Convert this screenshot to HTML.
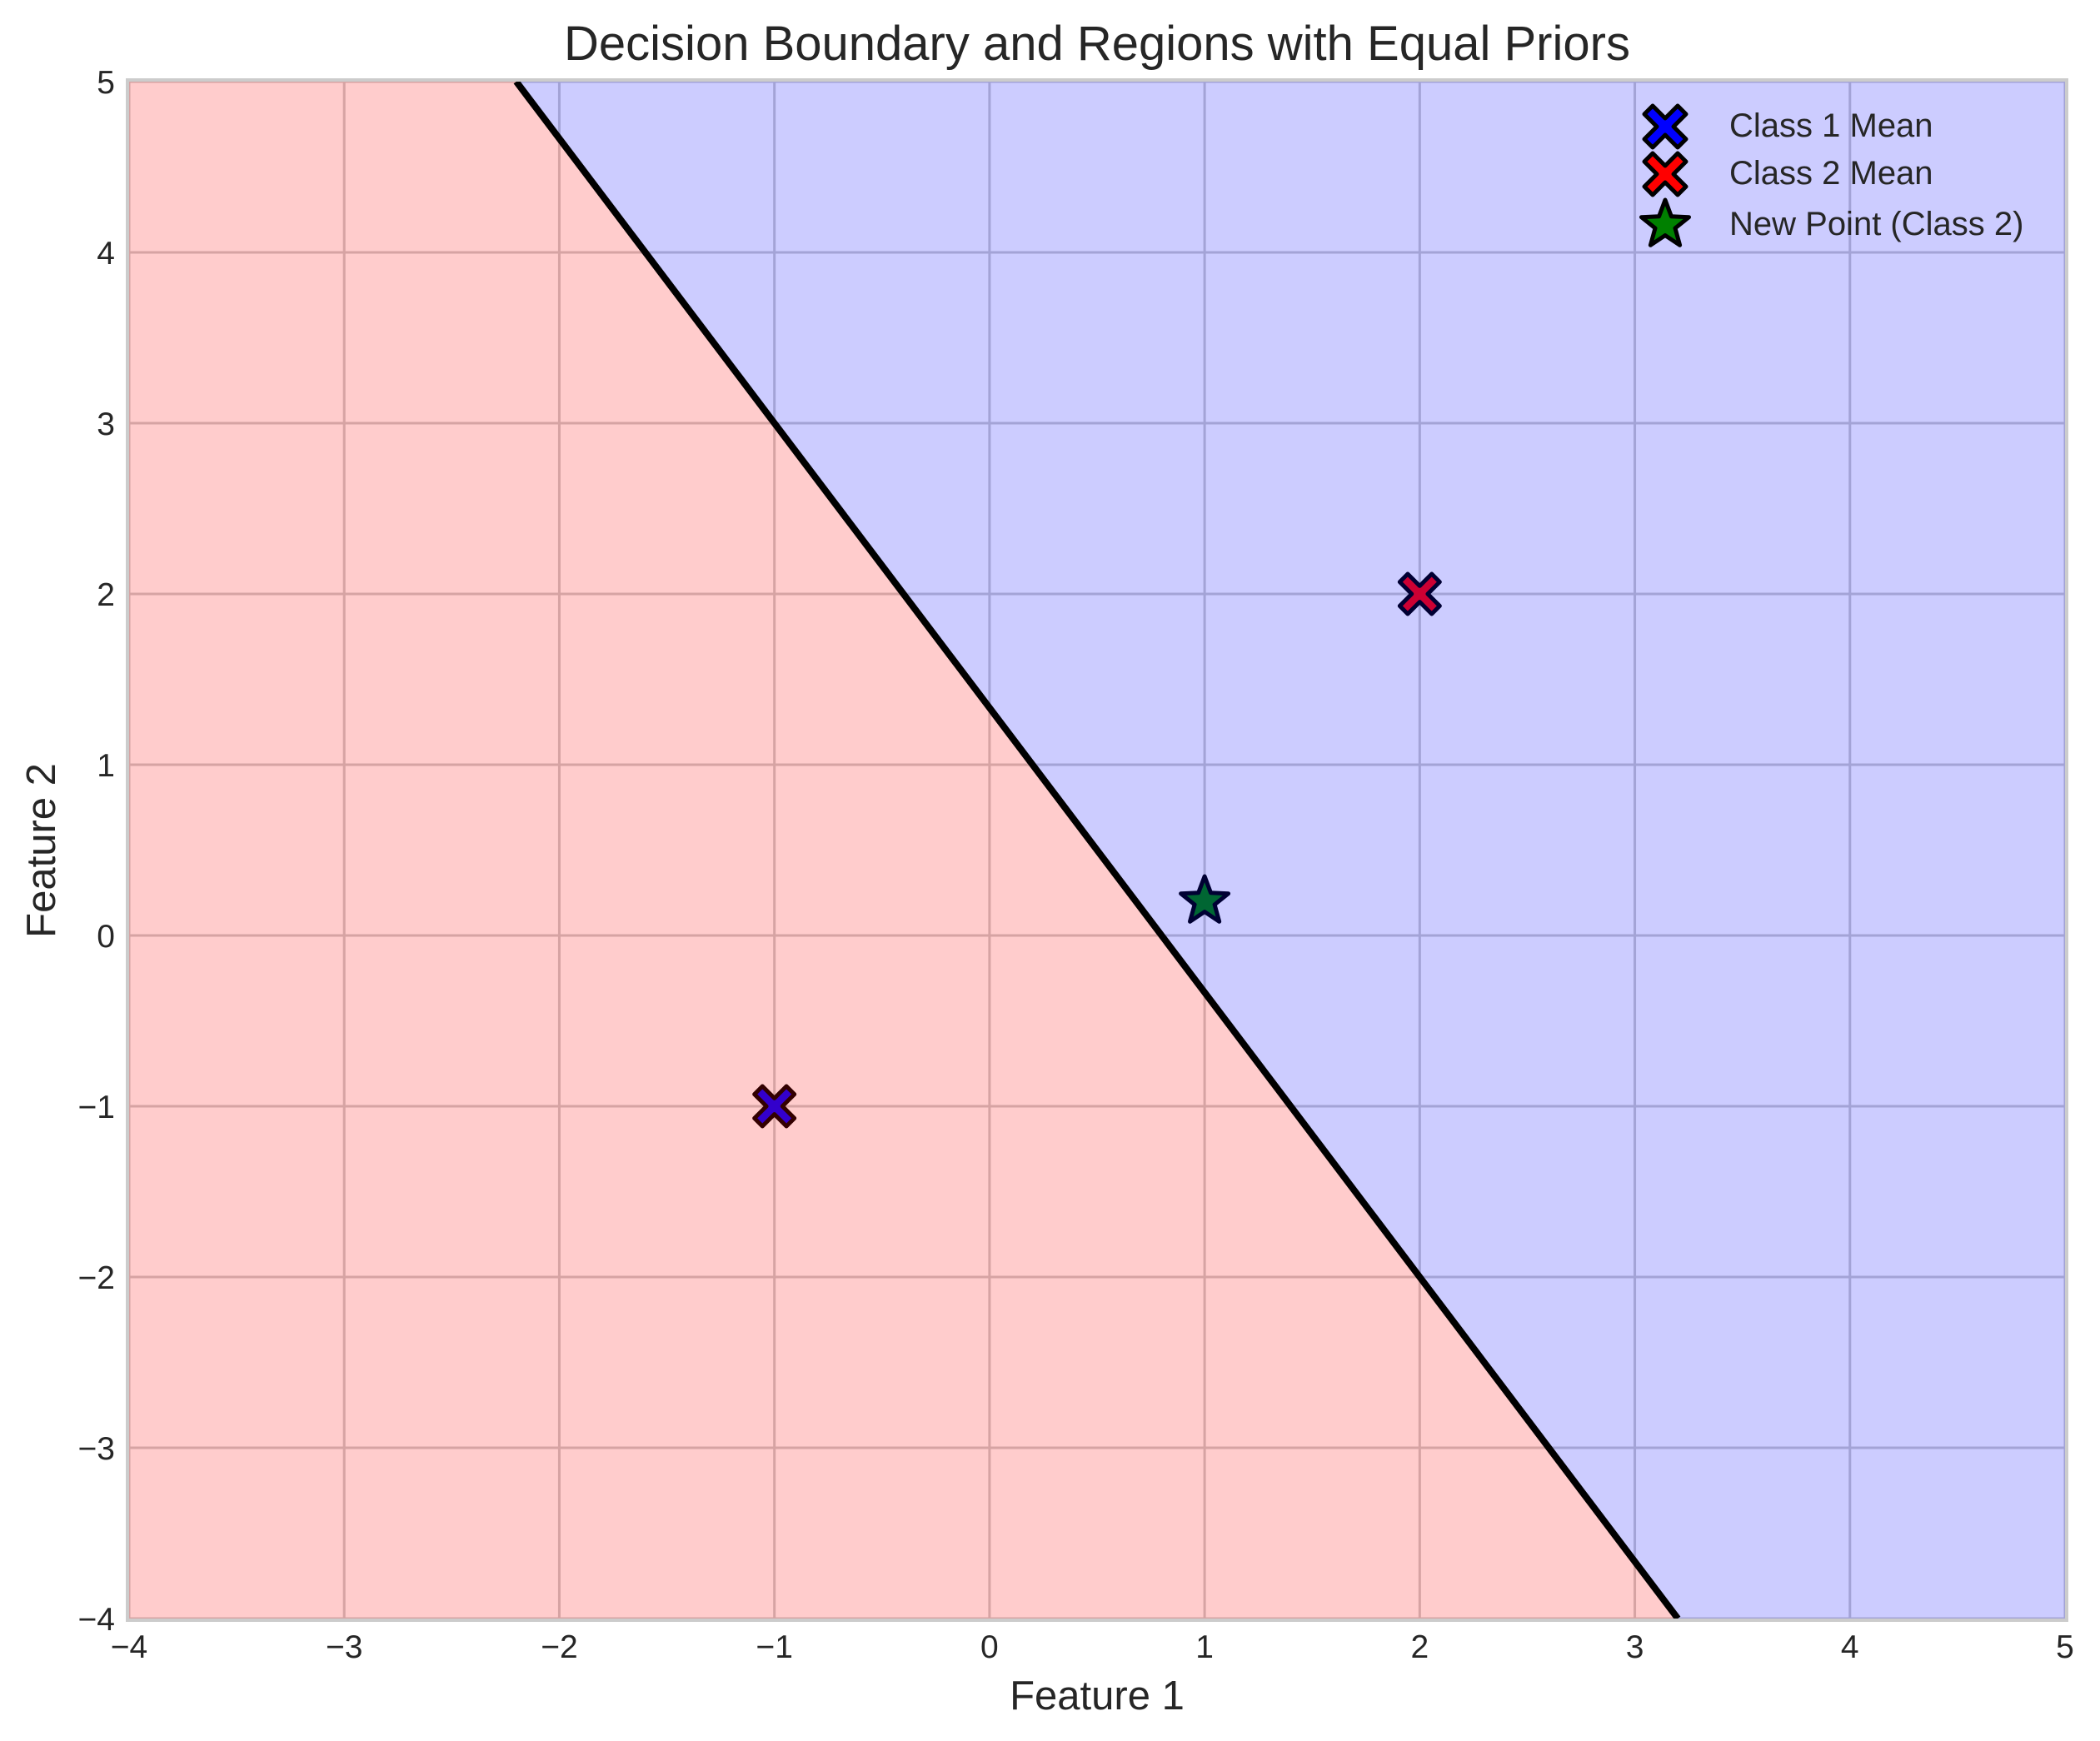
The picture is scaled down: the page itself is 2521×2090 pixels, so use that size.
<!DOCTYPE html>
<html><head><meta charset="utf-8"><style>
html,body{margin:0;padding:0;background:#fff;}
svg{display:block;font-family:"Liberation Sans",Arial,sans-serif;}
</style></head><body>
<svg id="chart" width="2521" height="2090" xmlns="http://www.w3.org/2000/svg">
<text x="1317" y="72" font-size="58" text-anchor="middle" fill="#262626">Decision Boundary and Regions with Equal Priors</text>
<text x="1317" y="2052" font-size="49" text-anchor="middle" fill="#262626">Feature 1</text>
<text x="0" y="0" font-size="49" text-anchor="middle" fill="#262626" transform="translate(66,1021) rotate(-90)">Feature 2</text>
<g id="grid"></g><g id="marks"></g><g id="regions"></g><g id="line"></g><g id="ticks"></g>
<rect x="153" y="96" width="2328" height="1849" fill="none" stroke="#cccccc" stroke-width="4"/>
<g id="legend" font-size="40" fill="#262626">
<g><path id="legx1" fill="#0000ff" stroke="#000" stroke-width="5" stroke-linejoin="round"/><text x="2076" y="164">Class 1 Mean</text></g>
<g><path id="legx2" fill="#ff0000" stroke="#000" stroke-width="5" stroke-linejoin="round"/><text x="2076" y="221">Class 2 Mean</text></g>
<g><path id="legstar" fill="#008000" stroke="#000" stroke-width="5" stroke-linejoin="round"/><text x="2076" y="282">New Point (Class 2)</text></g>
</g>
</svg>
<script>
const xTicks=[-4,-3,-2,-1,0,1,2,3,4,5];
const yTicks=[-4,-3,-2,-1,0,1,2,3,4,5];
const boundaryX=[-2.2,3.2];
const boundaryY=[5,-4];
const meanNames=['class1-mean','class2-mean'];
const meanX=[-1,2];
const meanY=[-1,2];
const meanColors=['#0000ff','#ff0000'];
const newPointX=[1];
const newPointY=[0.2];
const NS='http://www.w3.org/2000/svg';
const L=155,R=2479,T=98,B=1943;
const sx=v=>L+(v+4)/9*(R-L);
const sy=v=>B-(v+4)/9*(B-T);
function mk(t,a,p){const e=document.createElementNS(NS,t);for(const k in a)e.setAttribute(k,a[k]);p.appendChild(e);return e;}
const grid=document.getElementById('grid'),ticks=document.getElementById('ticks');
xTicks.forEach(v=>{
 const l=mk('line',{x1:sx(v),x2:sx(v),y1:T,y2:B,stroke:'#cccccc','stroke-width':3},grid);
 
 
 const t=mk('text',{x:sx(v),y:1990,'font-size':39,'text-anchor':'middle',fill:'#262626'},ticks);
 t.textContent=(v<0?'\u2212'+(-v):''+v);
 
 
});
yTicks.forEach(v=>{
 const l=mk('line',{x1:L,x2:R,y1:sy(v),y2:sy(v),stroke:'#cccccc','stroke-width':3},grid);
 
 
 const t=mk('text',{x:138,y:sy(v)+14,'font-size':39,'text-anchor':'end',fill:'#262626'},ticks);
 t.textContent=(v<0?'\u2212'+(-v):''+v);
 
 
});
const marks=document.getElementById('marks');
function xPath(cx,cy,s){const a=s*0.4,b=s;return `M${cx-b},${cy-b+a} L${cx-b+a},${cy-b} L${cx},${cy-a} L${cx+b-a},${cy-b} L${cx+b},${cy-b+a} L${cx+a},${cy} L${cx+b},${cy+b-a} L${cx+b-a},${cy+b} L${cx},${cy+a} L${cx-b+a},${cy+b} L${cx-b},${cy+b-a} L${cx-a},${cy}Z`;}
function starPath(cx,cy,r){let d='';for(let i=0;i<10;i++){const rr=i%2?r*0.42:r;const a=-Math.PI/2+i*Math.PI/5;d+=(i?'L':'M')+(cx+rr*Math.cos(a)).toFixed(1)+','+(cy+rr*Math.sin(a)).toFixed(1);}return d+'Z';}
meanX.forEach((v,i)=>{
 const p=mk('path',{d:xPath(sx(v),sy(meanY[i]),24),fill:meanColors[i],stroke:'#000','stroke-width':5,'stroke-linejoin':'round'},marks);
 
 
});
newPointX.forEach((v,i)=>{
 const p=mk('path',{d:starPath(sx(v),sy(newPointY[i]),30),fill:'#008000',stroke:'#000','stroke-width':5,'stroke-linejoin':'round'},marks);
 
 
});
document.getElementById('legx1').setAttribute('d',xPath(1999,152,25));
document.getElementById('legx2').setAttribute('d',xPath(1999,209,25));
document.getElementById('legstar').setAttribute('d',starPath(1999,270,30));
const reg=document.getElementById('regions');
const x0=sx(boundaryX[0]),y0=sy(boundaryY[0]),x1=sx(boundaryX[1]),y1=sy(boundaryY[1]);
const red=mk('polygon',{points:`${L},${T} ${x0},${y0} ${x1},${y1} ${L},${B}`,fill:'#ff0000','fill-opacity':0.2},reg);


const blue=mk('polygon',{points:`${x0},${y0} ${R},${T} ${R},${B} ${x1},${y1}`,fill:'#0000ff','fill-opacity':0.2},reg);


const ln=mk('line',{x1:x0,y1:y0,x2:x1,y2:y1,stroke:'#000','stroke-width':8},document.getElementById('line'));


</script>
</body></html>
